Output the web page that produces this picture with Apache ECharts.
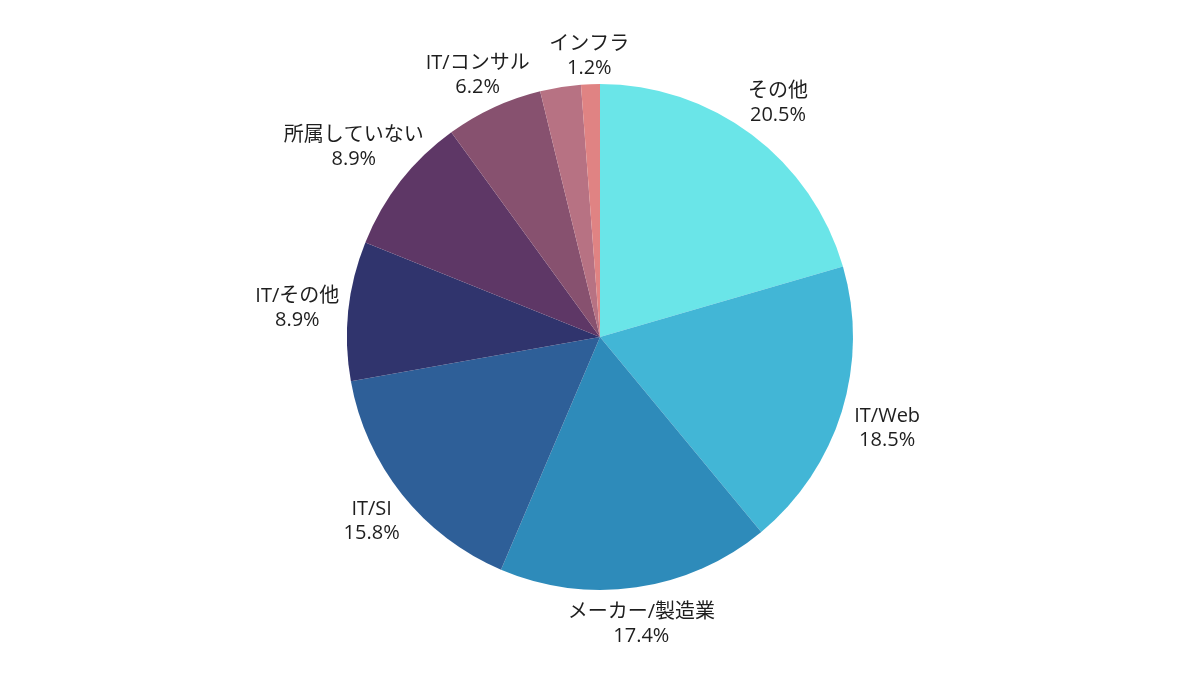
<!DOCTYPE html>
<html><head><meta charset="utf-8">
<script src="https://cdn.jsdelivr.net/npm/echarts@6/dist/echarts.min.js"></script>
<style>html,body{margin:0;padding:0;background:#fff}#c{width:1200px;height:675px}</style>
</head><body><div id="c"></div>
<script>
const categories = ['その他','IT/Web','メーカー/製造業','IT/SI','IT/その他','所属していない','IT/コンサル','(不明)','インフラ'];
const values = [20.5, 18.5, 17.4, 15.8, 8.9, 8.9, 6.2, 2.6, 1.2];
const showLabel = [true, true, true, true, true, true, true, false, true];
const colors = ['#6ae5e8','#42b6d6','#2e8bba','#2e5f98','#30346d','#5e3766','#87516f','#b77283','#e08383'];

const CX = 600, CY = 337, R = 253;
const FONT_SIZE = 20, LINE_H = 24, INK_INSET = 3, INK_GAP = 10, LABEL_DY = 3;
const FONT_FAMILY = '"Open Sans", "Noto Sans CJK JP", sans-serif';
const total = values.reduce((a,b)=>a+b,0);
const midFrac = [];
{ let cum = 0; values.forEach(v=>{ midFrac.push((cum + v/2)/total); cum += v; }); }

const pieData = categories.map((n,i)=>({name:n, value:values[i], itemStyle:{color:colors[i]}, label:{show:showLabel[i]}}));

const mctx = document.createElement('canvas').getContext('2d');
mctx.font = FONT_SIZE + 'px ' + FONT_FAMILY;
function lineWidths(i){
  return [categories[i], values[i] + '%'].map(s=>mctx.measureText(s).width);
}
function rectDist(x0,x1,y0,y1){
  const nx = Math.max(x0, Math.min(0, x1));
  const ny = Math.max(y0, Math.min(0, y1));
  return Math.hypot(nx, ny);
}
function placeLabel(params){
  const i = params.dataIndex;
  const phi = midFrac[i]*2*Math.PI;
  const ux = Math.sin(phi), uy = -Math.cos(phi);
  const [w1, w2] = lineWidths(i);
  const target = R + INK_GAP;
  let lo = 0, hi = R + 400;
  for (let k=0;k<60;k++){
    const t = (lo+hi)/2;
    const bx = ux*t, by = uy*t;
    const d1 = rectDist(bx-w1/2, bx+w1/2, by-LINE_H+INK_INSET, by-INK_INSET);
    const d2 = rectDist(bx-w2/2, bx+w2/2, by+INK_INSET, by+LINE_H-INK_INSET);
    if (Math.min(d1,d2) < target) lo = t; else hi = t;
  }
  return {x: CX + ux*hi, y: CY + uy*hi + LABEL_DY, align:'center', verticalAlign:'middle'};
}

const chart = echarts.init(document.getElementById('c'));
chart.setOption({
  animation:false,
  series:[
    {type:'pie', center:[CX,CY], radius:R, startAngle:90, clockwise:true,
     avoidLabelOverlap:false, silent:true,
     itemStyle:{borderWidth:0},
     labelLine:{show:false},
     label:{position:'outside', formatter:'{b}\n{c}%', color:'#1e1e1e', fontSize:FONT_SIZE, lineHeight:LINE_H,
            fontFamily:FONT_FAMILY, align:'center'},
     labelLayout: placeLabel,
     data:pieData}
  ]
});
</script></body></html>
